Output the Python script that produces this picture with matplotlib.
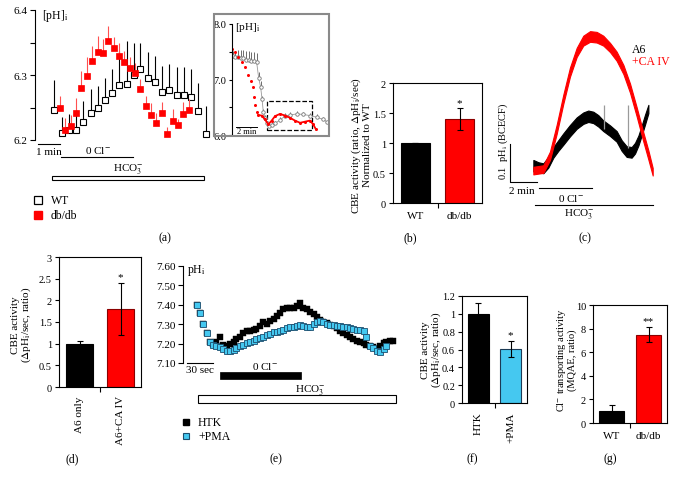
import numpy as np
import matplotlib
matplotlib.use("Agg")
import matplotlib.pyplot as plt
from matplotlib.lines import Line2D
from matplotlib.patches import Rectangle

plt.rcParams['font.family'] = ['Liberation Serif', 'DejaVu Serif']
plt.rcParams['mathtext.fontset'] = 'stix'

# ---- data ----
# (a) main trace, time in min, pHi
wt_t = [0.73, 1.06, 1.39, 1.71, 2.05, 2.38, 2.70, 3.03, 3.36, 3.68, 4.02,
        4.35, 4.64, 4.97, 5.30, 5.64, 5.95, 6.29, 6.62, 6.95, 7.27, 7.61]
wt_ph = [6.246, 6.211, 6.215, 6.216, 6.228, 6.242, 6.249, 6.261, 6.272, 6.284, 6.286,
         6.300, 6.310, 6.295, 6.289, 6.274, 6.277, 6.270, 6.269, 6.266, 6.244, 6.210]
wt_err = [0.046, 0.025, 0.025, 0.030, 0.032, 0.036, 0.034, 0.035, 0.037, 0.053, 0.067,
          0.050, 0.039, 0.040, 0.041, 0.040, 0.040, 0.042, 0.043, 0.044, 0.043, 0.042]
db_t = [0.98, 1.23, 1.47, 1.71, 1.95, 2.21, 2.45, 2.70, 2.92, 3.18, 3.42, 3.67, 3.91,
        4.15, 4.39, 4.64, 4.88, 5.12, 5.36, 5.62, 5.86, 6.11, 6.35, 6.59, 6.83]
db_ph = [6.250, 6.215, 6.221, 6.242, 6.280, 6.299, 6.322, 6.335, 6.334, 6.353, 6.341, 6.330, 6.320,
         6.311, 6.303, 6.279, 6.253, 6.238, 6.226, 6.241, 6.210, 6.230, 6.223, 6.240, 6.246]
db_err = [0.018, 0.019, 0.018, 0.022, 0.026, 0.028, 0.023, 0.025, 0.022, 0.023, 0.018, 0.020, 0.017,
          0.016, 0.015, 0.015, 0.015, 0.019, 0.016, 0.018, 0.010, 0.017, 0.010, 0.019, 0.017]

# (a) inset
ins_wt_t = [0.06, 0.32, 0.57, 0.83, 1.08, 1.33, 1.59, 1.84, 2.10, 2.35, 2.54, 2.73, 2.86, 2.98,
            3.14, 3.36, 3.55, 3.78, 4.10, 4.57, 5.05, 5.52, 6.16, 6.79, 7.43, 8.07, 8.70, 9.02]
ins_wt_ph = [7.42, 7.40, 7.40, 7.39, 7.38, 7.36, 7.35, 7.34, 7.33, 7.31, 7.03, 6.86, 6.65, 6.42,
             6.31, 6.22, 6.16, 6.18, 6.21, 6.27, 6.34, 6.36, 6.38, 6.37, 6.35, 6.32, 6.28, 6.24]
ins_wt_err = [0.10, 0.12, 0.13, 0.14, 0.15, 0.15, 0.16, 0.16, 0.17, 0.17, 0.10, 0.12, 0.06, 0.05,
              0.05, 0.04, 0.04, 0.04, 0.04, 0.05, 0.05, 0.05, 0.05, 0.05, 0.05, 0.05, 0.05, 0.05]
ins_db_t = [0.0, 0.29, 0.60, 0.92, 1.24, 1.55, 1.78, 1.97, 2.10, 2.22, 2.35, 2.50, 2.83,
            3.14, 3.46, 3.78, 4.10, 4.57, 5.05, 5.52, 6.00, 6.48, 6.95, 7.43, 7.74, 8.00]
ins_db_ph = [7.55, 7.49, 7.40, 7.32, 7.23, 7.09, 6.97, 6.86, 6.68, 6.54, 6.42, 6.36, 6.35,
             6.28, 6.19, 6.26, 6.34, 6.38, 6.35, 6.31, 6.26, 6.22, 6.24, 6.26, 6.19, 6.10]

# (b)
b_cats = ['WT', 'db/db']
b_vals = [1.0, 1.4]
b_err = [0.0, 0.18]

# (c) time in min, delta pHi
c_red_t = [1.73, 2.47, 2.96, 3.46, 3.95, 4.44, 4.94, 5.43, 5.93, 6.42, 6.91, 7.41, 7.90,
           8.40, 8.89, 9.38, 9.88, 10.25, 10.57]
c_red_mid = [0.030, 0.034, 0.069, 0.139, 0.218, 0.289, 0.341, 0.372, 0.383, 0.381, 0.372, 0.354, 0.331,
             0.296, 0.247, 0.185, 0.118, 0.071, 0.027]
c_red_half = [0.010, 0.010, 0.011, 0.012, 0.012, 0.012, 0.012, 0.013, 0.014, 0.014, 0.013, 0.012, 0.012,
              0.012, 0.012, 0.012, 0.012, 0.012, 0.010]
c_blk_t = [1.73, 2.10, 2.47, 2.84, 3.21, 3.58, 3.95, 4.44, 4.94, 5.43, 5.80, 6.17, 6.54, 6.91,
           7.41, 7.90, 8.27, 8.64, 9.01, 9.26, 9.51, 9.75, 10.00, 10.25]
c_blk_mid = [0.043, 0.039, 0.036, 0.052, 0.078, 0.096, 0.113, 0.135, 0.155, 0.168, 0.173, 0.170, 0.161, 0.148,
             0.135, 0.120, 0.096, 0.080, 0.078, 0.089, 0.109, 0.135, 0.164, 0.192]
c_blk_half = [0.015, 0.013, 0.013, 0.014, 0.014, 0.014, 0.015, 0.015, 0.015, 0.015, 0.015, 0.015, 0.015, 0.014,
              0.014, 0.014, 0.014, 0.014, 0.014, 0.014, 0.013, 0.013, 0.013, 0.011]
c_spike_t = [6.96, 8.77]
c_spike_lo = [0.140, 0.090]
c_spike_hi = [0.203, 0.203]

# (d)
d_cats = ['A6 only', 'A6+CA IV']
d_vals = [1.0, 1.8]
d_err = [0.07, 0.6]

# (e) time in s, pHi
e_t = [11, 15, 19, 23, 27, 30, 34, 38, 42, 46, 50, 54, 57, 61, 65, 69, 73, 77, 80, 84,
       88, 92, 96, 100, 104, 107, 111, 115, 119, 123, 127, 130, 134, 138, 142, 146, 150, 154, 157, 161,
       165, 169, 173, 177, 180, 184, 188, 192, 196, 200, 204, 207, 211, 215, 219, 223, 227, 230, 234, 238]
htk_ph = [7.398, 7.360, 7.300, 7.254, 7.210, 7.198, 7.206, 7.232, 7.192, 7.186, 7.198, 7.206, 7.223, 7.232,
          7.254, 7.266, 7.266, 7.271, 7.275, 7.292, 7.309, 7.300, 7.317, 7.326, 7.343, 7.360, 7.377, 7.381,
          7.381, 7.386, 7.395, 7.408, 7.386, 7.377, 7.364, 7.352, 7.335, 7.321, 7.309, 7.304, 7.295, 7.292,
          7.278, 7.266, 7.254, 7.244, 7.232, 7.223, 7.215, 7.206, 7.203, 7.194, 7.186, 7.180, 7.172, 7.186,
          7.203, 7.210, 7.215, 7.215]
pma_ph = [7.398, 7.360, 7.300, 7.254, 7.206, 7.192, 7.186, 7.180, 7.172, 7.163, 7.163, 7.168, 7.175, 7.186,
          7.192, 7.203, 7.206, 7.213, 7.223, 7.227, 7.235, 7.244, 7.251, 7.258, 7.261, 7.266, 7.271, 7.278,
          7.283, 7.288, 7.292, 7.295, 7.292, 7.288, 7.287, 7.300, 7.309, 7.316, 7.309, 7.300, 7.295, 7.295,
          7.292, 7.292, 7.288, 7.283, 7.278, 7.275, 7.271, 7.268, 7.266, 7.232, 7.186, 7.175, 7.163, 7.158,
          7.172, 7.186]

# (f)
f_cats = ['HTK', '+PMA']
f_vals = [1.0, 0.61]
f_err = [0.12, 0.09]

# (g)
g_cats = ['WT', 'db/db']
g_vals = [1.0, 7.5]
g_err = [0.55, 0.6]

RED = '#ff0000'
CYAN = '#45c8f0'

# ---- figure helpers (pixel coords, origin top-left) ----
W, H = 675, 481
fig = plt.figure(figsize=(6.75, 4.81), dpi=100)


def prect(x0, y0, x1, y1):
    return [x0 / W, 1 - y1 / H, (x1 - x0) / W, (y1 - y0) / H]


def ptext(x, y, s, **kw):
    kw.setdefault('ha', 'center')
    kw.setdefault('va', 'center')
    kw.setdefault('fontsize', 8)
    fig.text(x / W, 1 - y / H, s, **kw)


def pline(xs, ys, **kw):
    kw.setdefault('color', 'k')
    kw.setdefault('lw', 0.8)
    fig.add_artist(Line2D([x / W for x in xs], [1 - y / H for y in ys], **kw))


def pbox(x0, y0, x1, y1, **kw):
    fig.add_artist(Rectangle((x0 / W, 1 - y1 / H), (x1 - x0) / W, (y1 - y0) / H,
                             transform=fig.transFigure, **kw))


def left_only(ax):
    for s in ['top', 'right', 'bottom']:
        ax.spines[s].set_visible(False)
    ax.spines['left'].set_linewidth(0.8)
    ax.set_xticks([])
    ax.patch.set_alpha(0)
    ax.tick_params(axis='y', direction='out', length=3.5, width=0.8, labelsize=8, pad=2)


def bar_panel(r, cats, vals, errs, colors, edges, top, ticks, labels, star, star_y, rotate):
    ax = fig.add_axes(prect(*r))
    x = np.arange(len(cats))
    ax.bar(x, vals, width=0.66, color=colors, edgecolor=edges, linewidth=0.8, zorder=2)
    ax.errorbar(x, vals, yerr=errs, fmt='none', ecolor='k', elinewidth=0.8,
                capsize=2, capthick=0.8, zorder=3)
    ax.text(x[1], star_y, star, ha='center', va='center', fontsize=8)
    ax.set_xlim(-0.5, 1.5)
    ax.set_ylim(0, top)
    ax.set_yticks(ticks)
    ax.set_yticklabels(labels)
    ax.set_xticks(x)
    ax.set_xticklabels(cats, rotation=90 if rotate else 0)
    ax.set_xticks([0.5], minor=True)
    ax.tick_params(axis='x', which='major', length=0, pad=6, labelsize=8)
    ax.tick_params(axis='x', which='minor', direction='out', length=3.5, width=0.8)
    ax.tick_params(axis='y', direction='out', length=3, width=0.8, labelsize=7.5, pad=2)
    for sp in ax.spines.values():
        sp.set_linewidth(0.8)
    return ax


# ---- (a) ----
axa = fig.add_axes(prect(35, 11, 215, 141))
axa.set_xlim(-0.15, 8.03)
axa.set_ylim(6.2, 6.4)
axa.vlines(wt_t, wt_ph, np.array(wt_ph) + np.array(wt_err), color='k', lw=0.8, clip_on=False)
axa.plot(wt_t, wt_ph, 's', ms=4, mfc='white', mec='k', mew=0.8, clip_on=False)
axa.vlines(db_t, db_ph, np.array(db_ph) + np.array(db_err), color='#ff5050', lw=0.8, clip_on=False)
axa.plot(db_t, db_ph, 's', ms=4, mfc=RED, mec=RED, mew=0.5, clip_on=False)
left_only(axa)
axa.set_yticks([6.2, 6.25, 6.3, 6.35, 6.4])
axa.set_yticklabels(['6.2', '', '6.3', '', '6.4'])
ptext(42, 16, r'[pH]$_\mathrm{i}$', ha='left', fontsize=8.5)
pline([38, 60], [145, 145])
ptext(49, 153, '1 min')
pline([61, 133], [158, 158])
ptext(98, 150, r'0 Cl$^{-}$')
pbox(52, 177, 204, 181, facecolor='white', edgecolor='k', lw=0.8)
ptext(128, 169, r'HCO$_3^{-}$')
pline([38], [201], marker='s', ms=5.5, mfc='white', mec='k', mew=0.9, ls='none')
ptext(51, 201, 'WT', ha='left', fontsize=8.5)
pline([38], [216], marker='s', ms=5.5, mfc=RED, mec=RED, ls='none')
ptext(51, 216, 'db/db', ha='left', fontsize=8.5)
ptext(165, 238, '(a)', fontsize=8.5)

# inset
pbox(214, 15, 329, 137, facecolor='none', edgecolor='#8a8a8a', lw=1.5)
axi = fig.add_axes(prect(232, 25, 327, 136))
axi.set_xlim(0, 9.05)
axi.set_ylim(6.0, 8.0)
axi.vlines(ins_wt_t, ins_wt_ph, np.array(ins_wt_ph) + np.array(ins_wt_err), color='#555555', lw=0.6)
axi.plot(ins_wt_t, ins_wt_ph, '-', color='#999999', lw=0.6)
axi.plot(ins_wt_t, ins_wt_ph, 'o', ms=2.5, mfc='white', mec='#777777', mew=0.6)
axi.plot(ins_db_t, ins_db_ph, 'o', ms=2.2, color=RED, mew=0)
axi.plot(ins_db_t[11:], ins_db_ph[11:], '-', color=RED, lw=1.3)
axi.add_patch(Rectangle((3.33, 6.09), 4.29, 0.52, fill=False, ls='--', lw=0.9, ec='k'))
left_only(axi)
axi.set_yticks([6.0, 6.5, 7.0, 7.5, 8.0])
axi.set_yticklabels(['6.0', '', '7.0', '', '8.0'])
axi.tick_params(axis='y', length=2.5, labelsize=7.5, pad=1.5)
ptext(235, 27, r'[pH]$_\mathrm{i}$', ha='left', fontsize=8)
pline([236, 257], [128, 128], lw=0.7)
ptext(246.5, 132.5, '2 min', fontsize=6)

# ---- (b) ----
bar_panel((393, 84, 482, 204), b_cats, b_vals, b_err, ['k', RED], ['k', '#8b0000'],
          2, [0, 0.5, 1, 1.5, 2], ['0', '0.5', '1', '1.5', '2'], '*', 1.68, False)
ptext(361, 145, 'CBE activity (ratio, $\\Delta$pH$_\\mathrm{i}$/sec)\nNormalized to WT',
      rotation=90, fontsize=8, linespacing=1.0)
ptext(410, 238, '(b)', fontsize=8.5)

# ---- (c) ----
axc = fig.add_axes(prect(510, 20, 665, 183))
axc.set_xlim(0, 155 / 13.5)
axc.set_ylim(0, 163 / 380)
axc.axis('off')
axc.fill_between(c_blk_t, np.array(c_blk_mid) - np.array(c_blk_half),
                 np.array(c_blk_mid) + np.array(c_blk_half), color='k', lw=0.8, ec='k')
axc.vlines(c_spike_t, c_spike_lo, c_spike_hi, color='#9a9a9a', lw=0.9)
axc.fill_between(c_red_t, np.array(c_red_mid) - np.array(c_red_half),
                 np.array(c_red_mid) + np.array(c_red_half), color=RED, lw=0.8, ec=RED)
pline([510, 510, 537], [145, 183, 183])
ptext(503, 141, r'0.1  pH$_\mathrm{i}$ (BCECF)', rotation=90, fontsize=7.5)
ptext(522, 192, '2 min')
pline([539, 592], [189, 189])
ptext(571, 199, r'0 Cl$^{-}$')
pline([535, 653], [206, 206])
ptext(579, 214, r'HCO$_3^{-}$')
ptext(632, 50, 'A6', ha='left', fontsize=8.5)
ptext(632, 62, '+CA IV', ha='left', fontsize=8.5, color=RED)
ptext(585, 238, '(c)', fontsize=8.5)

# ---- (d) ----
bar_panel((59, 258, 141, 388), d_cats, d_vals, d_err, ['k', RED], ['k', '#8b0000'],
          3, [0, 0.5, 1, 1.5, 2, 2.5, 3], ['0', '0.5', '1', '1.5', '2', '2.5', '3'], '*', 2.55, True)
ptext(22, 325, 'CBE activity\n($\\Delta$pH$_\\mathrm{i}$/sec, ratio)', rotation=90, fontsize=8,
      linespacing=1.05)
ptext(72, 459, '(d)', fontsize=8.5)

# ---- (e) ----
axe = fig.add_axes(prect(183, 267, 400, 364))
axe.set_xlim(-4.6, 245.7)
axe.set_ylim(7.10, 7.60)
axe.plot(e_t, htk_ph, 's', ms=3.8, color='k', mew=0.3, clip_on=False)
axe.plot(e_t[:len(pma_ph)], pma_ph, 's', ms=3.9, mfc=CYAN, mec='#1c4e6e', mew=0.6, clip_on=False)
left_only(axe)
axe.set_yticks([7.1, 7.2, 7.3, 7.4, 7.5, 7.6])
axe.set_yticklabels(['7.10', '7.20', '7.30', '7.40', '7.50', '7.60'])
ptext(187, 271, r'pH$_\mathrm{i}$', ha='left', fontsize=8.5)
pline([187, 213], [364, 364])
ptext(200, 371, '30 sec')
pbox(220, 373, 301, 380, facecolor='k', edgecolor='k', lw=0.5)
ptext(265, 366, r'0 Cl$^{-}$')
pbox(198, 396, 396, 404, facecolor='white', edgecolor='k', lw=0.8)
ptext(310, 390, r'HCO$_3^{-}$')
pline([186], [423], marker='s', ms=5, color='k', ls='none')
ptext(198, 423, 'HTK', ha='left', fontsize=8.5)
pline([186], [437], marker='s', ms=5, mfc=CYAN, mec='#1c4e6e', mew=0.8, ls='none')
ptext(198, 437, '+PMA', ha='left', fontsize=8.5)
ptext(276, 459, '(e)', fontsize=8.5)

# ---- (f) ----
bar_panel((462, 297, 527, 404), f_cats, f_vals, f_err, ['k', CYAN], ['k', '#1c3a55'],
          1.2, [0, 0.2, 0.4, 0.6, 0.8, 1.0, 1.2], ['0', '0.2', '0.4', '0.6', '0.8', '1', '1.2'],
          '*', 0.77, True)
ptext(432, 350, 'CBE activity\n($\\Delta$pH$_\\mathrm{i}$/sec, ratio)', rotation=90, fontsize=8,
      linespacing=1.05)
ptext(472, 459, '(f)', fontsize=8.5)

# ---- (g) ----
bar_panel((593, 306, 667, 424), g_cats, g_vals, g_err, ['k', RED], ['k', '#8b0000'],
          10, [0, 2, 4, 6, 8, 10], ['0', '2', '4', '6', '8', '10'], '**', 8.65, False)
ptext(566, 360, 'Cl$^{-}$ transporting activity\n(MQAE, ratio)', rotation=90, fontsize=7.5,
      linespacing=1.05)
ptext(610, 459, '(g)', fontsize=8.5)

fig.savefig('out.png', dpi=100)
